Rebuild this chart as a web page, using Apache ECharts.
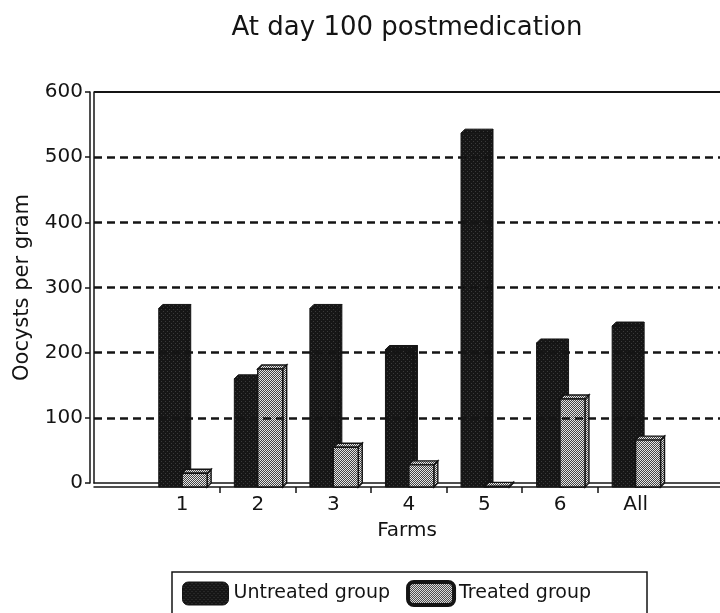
<!DOCTYPE html>
<html>
<head>
<meta charset="utf-8">
<script src="https://cdn.jsdelivr.net/npm/echarts@6/dist/echarts.min.js"></script>
<style>
  html, body { margin: 0; padding: 0; background: #ffffff; }
  #chart { width: 720px; height: 613px; }
</style>
</head>
<body>
<div id="chart"></div>
<script>
// Oocyst counts per farm, 100 days after medication
const farms = ['1', '2', '3', '4', '5', '6', 'All'];
const untreated = [274, 166, 274, 211, 543, 221, 247];
const treated = [21, 181, 61, 34, 1, 135, 72];
const yTicks = [0, 100, 200, 300, 400, 500, 600];
const seriesNames = ['Untreated group', 'Treated group'];

const FONT = '"DejaVu Sans", Verdana, sans-serif';
const INK = '#141414';

// Small repeating fills that imitate the printed screen tones
function makePattern(size, bg, dot, dots) {
  const c = document.createElement('canvas');
  c.width = size; c.height = size;
  const g = c.getContext('2d');
  g.fillStyle = bg; g.fillRect(0, 0, size, size);
  g.fillStyle = dot;
  dots.forEach(function (p) { g.fillRect(p[0], p[1], 1, 1); });
  return { image: c, repeat: 'repeat' };
}
const darkFill = makePattern(4, '#161616', '#3a3a3a', [[1, 1], [3, 3]]);
const lightFill = makePattern(2, '#e6e6e6', '#444444', [[1, 0], [0, 1]]);

// Farm positions on a continuous axis so the plot can start left of farm 1
const XMIN = -1.167;
const XMAX = 7.117;
const DEPTH = 4;

function barRenderer(fromFrac, toFrac, fill, light) {
  return function (params, api) {
    const x = api.value(0);
    const v = api.value(1);
    const unit = api.size([1, 0])[0];
    const c = api.coord([x, 0]);
    const t = api.coord([x, v]);
    const fx0 = c[0] + fromFrac * unit;
    const fx1 = c[0] + toFrac * unit;
    const yb = c[1] + DEPTH;
    const yt = t[1] + DEPTH;
    const d = DEPTH;
    const stroke = { stroke: INK, lineWidth: light ? 1.4 : 1 };
    const children = [
      {
        type: 'polygon',
        shape: { points: [[fx1, yt], [fx1 + d, yt - d], [fx1 + d, yb - d], [fx1, yb]] },
        style: Object.assign({ fill: fill }, stroke)
      },
      {
        type: 'polygon',
        shape: { points: [[fx0, yt], [fx0 + d, yt - d], [fx1 + d, yt - d], [fx1, yt]] },
        style: Object.assign({ fill: fill }, stroke)
      },
      {
        type: 'rect',
        shape: { x: fx0, y: yt, width: fx1 - fx0, height: yb - yt },
        style: Object.assign({ fill: fill }, stroke)
      }
    ];
    return { type: 'group', children: children };
  };
}

const gridValues = yTicks.filter(function (v) { return v > yTicks[0] && v < yTicks[yTicks.length - 1]; });
const topValue = yTicks[yTicks.length - 1];

const chart = echarts.init(document.getElementById('chart'), null, { renderer: 'canvas' });

chart.setOption({
  animation: false,
  backgroundColor: '#ffffff',
  title: {
    text: 'At day 100 postmedication',
    left: 402,
    top: 10,
    textAlign: 'center',
    textStyle: { fontFamily: FONT, fontSize: 26, fontWeight: 'normal', color: INK }
  },
  grid: { left: 94, right: 0, top: 92, bottom: 130, outerBoundsMode: 'none' },
  legend: {
    left: 172,
    top: 572,
    orient: 'horizontal',
    borderColor: INK,
    borderWidth: 1.5,
    padding: [8, 56, 12, 10],
    itemWidth: 46,
    itemHeight: 23,
    itemGap: 16,
    selectedMode: false,
    textStyle: { fontFamily: FONT, fontSize: 19, color: INK },
    data: [
      { name: seriesNames[0], icon: 'roundRect', itemStyle: { color: darkFill, borderColor: INK, borderWidth: 1 } },
      { name: seriesNames[1], icon: 'roundRect', itemStyle: { color: lightFill, borderColor: INK, borderWidth: 4 } }
    ]
  },
  xAxis: [
    {
      type: 'value', min: XMIN, max: XMAX, position: 'bottom',
      axisLine: { show: true, onZero: false, lineStyle: { color: INK, width: 1.5 } },
      axisTick: { show: false }, axisLabel: { show: false }, splitLine: { show: false }
    },
    {
      type: 'value', min: XMIN, max: XMAX, position: 'bottom', offset: 4,
      axisLine: { show: true, onZero: false, lineStyle: { color: INK, width: 1.5 } },
      axisTick: {
        show: true, length: 6, lineStyle: { color: INK, width: 1.5 },
        customValues: farms.slice(1).map(function (f, i) { return i + 0.5; })
      },
      axisLabel: {
        show: true, margin: 8, fontFamily: FONT, fontSize: 20, color: INK,
        customValues: farms.map(function (f, i) { return i; }),
        formatter: function (v) { return farms[Math.round(v)]; }
      },
      splitLine: { show: false },
      name: 'Farms', nameLocation: 'middle', nameGap: 34,
      nameTextStyle: { fontFamily: FONT, fontSize: 20, color: INK }
    }
  ],
  yAxis: [
    {
      type: 'value', min: 0, max: 600, interval: 100, position: 'left',
      axisLine: { show: true, onZero: false, lineStyle: { color: INK, width: 1.5 } },
      axisTick: { show: false }, axisLabel: { show: false }, splitLine: { show: false }
    },
    {
      type: 'value', min: 0, max: 600, interval: 100, position: 'left', offset: 4,
      axisLine: { show: true, onZero: false, lineStyle: { color: INK, width: 1.5 } },
      axisTick: { show: true, length: 5, lineStyle: { color: INK, width: 1.5 } },
      axisLabel: { show: true, margin: 7, fontFamily: FONT, fontSize: 20, color: INK },
      splitLine: { show: false },
      name: 'Oocysts per gram', nameLocation: 'middle', nameGap: 57,
      nameTextStyle: { fontFamily: FONT, fontSize: 21, color: INK }
    }
  ],
  series: [
    {
      name: 'gridlines',
      type: 'line',
      data: [],
      z: 1,
      markLine: {
        silent: true, symbol: 'none', label: { show: false },
        data: gridValues.map(function (v) {
          return { yAxis: v, lineStyle: { type: [8, 5], width: 2.5, color: INK } };
        }).concat([{ yAxis: topValue, lineStyle: { type: 'solid', width: 1.8, color: INK } }])
      }
    },
    {
      name: seriesNames[0],
      type: 'custom',
      z: 3,
      itemStyle: { color: darkFill },
      renderItem: barRenderer(-0.31, 0.06, darkFill, false),
      data: untreated.map(function (v, i) { return [i, v]; })
    },
    {
      name: seriesNames[1],
      type: 'custom',
      z: 4,
      itemStyle: { color: lightFill },
      renderItem: barRenderer(0.0, 0.33, lightFill, true),
      data: treated.map(function (v, i) { return [i, v]; })
    }
  ]
});
</script>
</body>
</html>
